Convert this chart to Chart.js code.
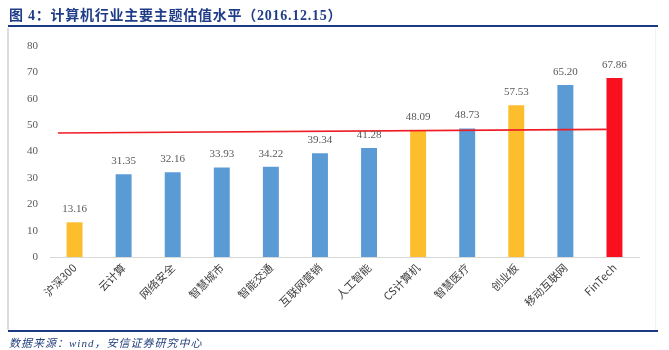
<!DOCTYPE html>
<html>
<head>
<meta charset="utf-8">
<script src="https://cdn.jsdelivr.net/npm/chart.js@4/dist/chart.umd.min.js"></script>
<style>
  html, body { margin: 0; padding: 0; background: #fff; }
  #wrap { position: relative; width: 669px; height: 350px; overflow: hidden; }
  #title { position: absolute; left: 9px; top: 4px; font-family: "Liberation Serif", "Noto Sans CJK SC", serif; font-weight: bold; font-size: 14px; color: #1f3c88; white-space: nowrap; letter-spacing: 0.75px; }
  #topline { position: absolute; left: 8px; top: 25px; width: 650px; height: 2px; background: #1c3a84; }
  #botline { position: absolute; left: 8px; top: 330px; width: 650px; height: 2px; background: #1c3a84; }
  #leftline { position: absolute; left: 7px; top: 28px; width: 2px; height: 302px; background: #dcdcdc; }
  #rightline { position: absolute; left: 655px; top: 28px; width: 1px; height: 302px; background: #f2f2f2; }
  #source { position: absolute; left: 9px; top: 334px; font-family: "Liberation Serif", "Noto Sans CJK SC", serif; font-style: italic; font-size: 11px; color: #233f7d; white-space: nowrap; letter-spacing: 1px; }
  #c { position: absolute; left: 0; top: 0; }
</style>
</head>
<body>
<div id="wrap">
  <canvas id="c" width="669" height="350"></canvas>
  <div id="leftline"></div>
  <div id="rightline"></div>
  <div id="title">图 4：计算机行业主要主题估值水平（2016.12.15）</div>
  <div id="topline"></div>
  <div id="botline"></div>
  <div id="source">数据来源：wind，安信证券研究中心</div>
</div>
<script>
const categories = ["沪深300", "云计算", "网络安全", "智慧城市", "智能交通", "互联网营销", "人工智能", "CS计算机", "智慧医疗", "创业板", "移动互联网", "FinTech"];
const values = [13.16, 31.35, 32.16, 33.93, 34.22, 39.34, 41.28, 48.09, 48.73, 57.53, 65.20, 67.86];
const barColors = ["#FDBE2E", "#5B9BD5", "#5B9BD5", "#5B9BD5", "#5B9BD5", "#5B9BD5", "#5B9BD5", "#FDBE2E", "#5B9BD5", "#FDBE2E", "#5B9BD5", "#F8101E"];
const yTicks = [0, 10, 20, 30, 40, 50, 60, 70, 80];
// reference line drawn across the chart (position in category index units, value)
const refLineX = [-0.34, 10.84];
const refLineY = [47.0, 48.4];

const labelPlugin = {
  id: 'barLabels',
  afterDatasetsDraw(chart) {
    const ctx = chart.ctx;
    const meta = chart.getDatasetMeta(0);
    ctx.save();
    ctx.font = '11px "Liberation Serif", serif';
    ctx.fillStyle = '#595959';
    ctx.textAlign = 'center';
    ctx.textBaseline = 'middle';
    meta.data.forEach((el, i) => {
      ctx.fillText(values[i].toFixed(2), el.x, el.y - 13);
    });
    ctx.restore();
  }
};

new Chart(document.getElementById('c'), {
  data: {
    labels: categories,
    datasets: [
      {
        type: 'bar',
        data: values,
        backgroundColor: barColors,
        grouped: false,
        barPercentage: 0.325,
        categoryPercentage: 1,
        order: 2,
        xAxisID: 'x',
        yAxisID: 'y'
      },
      {
        type: 'line',
        data: refLineX.map((x, i) => ({ x: x, y: refLineY[i] })),
        borderColor: '#EE1C25',
        borderWidth: 1.6,
        pointRadius: 0,
        fill: false,
        order: 1,
        xAxisID: 'x2',
        yAxisID: 'y'
      }
    ]
  },
  options: {
    responsive: false,
    animation: false,
    devicePixelRatio: 1,
    layout: { padding: { left: 8, right: 30, top: 46, bottom: 0 } },
    plugins: { legend: { display: false }, tooltip: { enabled: false } },
    scales: {
      x: {
        type: 'category',
        offset: true,
        grid: { display: false, drawTicks: false },
        border: { display: true, color: '#d9d9d9', width: 1 },
        ticks: {
          minRotation: 45,
          maxRotation: 45,
          padding: 4,
          color: '#404040',
          font: { family: '"Noto Sans CJK SC", serif', size: 11 }
        },
        afterFit(scale) { scale.height = 93; }
      },
      x2: {
        type: 'linear',
        display: false,
        min: -0.5,
        max: 11.5
      },
      y: {
        min: 0,
        max: 80,
        afterBuildTicks(scale) { scale.ticks = yTicks.map(v => ({ value: v })); },
        grid: { display: false, drawTicks: false },
        border: { display: false },
        ticks: {
          padding: 12,
          color: '#595959',
          font: { family: '"Liberation Serif", serif', size: 11 }
        },
        afterFit(scale) { scale.width = 42; }
      }
    }
  },
  plugins: [labelPlugin]
});
</script>
</body>
</html>
